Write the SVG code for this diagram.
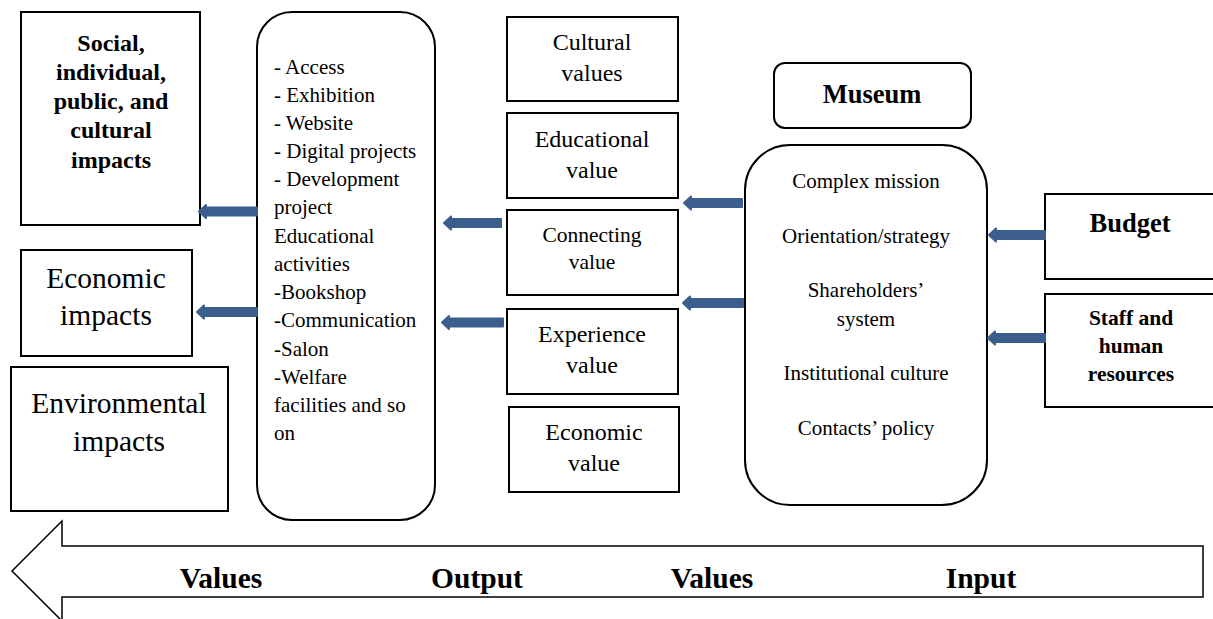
<svg xmlns="http://www.w3.org/2000/svg" width="1213" height="619" viewBox="0 0 1213 619">
<style>
.box{fill:#fff;stroke:#000;stroke-width:2}
.t{font-family:'Liberation Serif','Times New Roman',Times,serif;fill:#000}
.c{text-anchor:middle}
.b{font-weight:bold}
.arr{fill:#3B5E8D;stroke:#3B5E8D;stroke-width:2;stroke-linejoin:round}
</style>
<rect width="1213" height="619" fill="#fff"/>
<g id="social-impacts">
<rect class="box" x="21" y="12" width="179" height="213"/>
<text class="t c b" font-size="24"><tspan x="111" y="51">Social,</tspan><tspan x="111" y="80">individual,</tspan><tspan x="111" y="109">public, and</tspan><tspan x="111" y="138">cultural</tspan><tspan x="111" y="168">impacts</tspan></text>
</g>
<g id="economic-impacts">
<rect class="box" x="21" y="250" width="171" height="106"/>
<text class="t c" font-size="29.5"><tspan x="106" y="288">Economic</tspan><tspan x="106" y="325">impacts</tspan></text>
</g>
<g id="environmental-impacts">
<rect class="box" x="11" y="367" width="217" height="144"/>
<text class="t c" font-size="29.5"><tspan x="119" y="413">Environmental</tspan><tspan x="119" y="451">impacts</tspan></text>
</g>
<g id="output">
<rect class="box" x="257" y="12" width="178" height="508" rx="35" ry="35"/>
<text class="t" font-size="21"><tspan x="274" y="74">- Access</tspan><tspan x="274" y="102">- Exhibition</tspan><tspan x="274" y="130">- Website</tspan><tspan x="274" y="158">- Digital projects</tspan><tspan x="274" y="186">- Development</tspan><tspan x="274" y="214">project</tspan><tspan x="274" y="243">Educational</tspan><tspan x="274" y="271">activities</tspan><tspan x="274" y="299">-Bookshop</tspan><tspan x="274" y="327">-Communication</tspan><tspan x="274" y="356">-Salon</tspan><tspan x="274" y="384">-Welfare</tspan><tspan x="274" y="412">facilities and so</tspan><tspan x="274" y="440">on</tspan></text>
</g>
<g id="cultural-values">
<rect class="box" x="507" y="17" width="171" height="84"/>
<text class="t c" font-size="24"><tspan x="592" y="50">Cultural</tspan><tspan x="592" y="81">values</tspan></text>
</g>
<g id="educational-value">
<rect class="box" x="507" y="113" width="171" height="85"/>
<text class="t c" font-size="24"><tspan x="592" y="147">Educational</tspan><tspan x="592" y="178">value</tspan></text>
</g>
<g id="connecting-value">
<rect class="box" x="507" y="210" width="171" height="85"/>
<text class="t c" font-size="21.5"><tspan x="592" y="242">Connecting</tspan><tspan x="592" y="269">value</tspan></text>
</g>
<g id="experience-value">
<rect class="box" x="507" y="309" width="171" height="85"/>
<text class="t c" font-size="24"><tspan x="592" y="342">Experience</tspan><tspan x="592" y="373">value</tspan></text>
</g>
<g id="economic-value">
<rect class="box" x="509" y="407" width="170" height="85"/>
<text class="t c" font-size="24"><tspan x="594" y="440">Economic</tspan><tspan x="594" y="471">value</tspan></text>
</g>
<g id="museum-title">
<rect class="box" x="774" y="63" width="197" height="65" rx="11" ry="11"/>
<text class="t c b" font-size="26.5" x="872" y="103">Museum</text>
</g>
<g id="museum">
<rect class="box" x="745" y="145" width="242" height="360" rx="45" ry="45"/>
<text class="t c" font-size="21"><tspan x="866" y="188">Complex mission</tspan><tspan x="866" y="243">Orientation/strategy</tspan><tspan x="866" y="297">Shareholders’</tspan><tspan x="866" y="326">system</tspan><tspan x="866" y="380">Institutional culture</tspan><tspan x="866" y="435">Contacts’ policy</tspan></text>
</g>
<g id="budget">
<rect class="box" x="1045" y="194" width="172" height="85"/>
<text class="t c b" font-size="26.5" x="1130" y="232">Budget</text>
</g>
<g id="staff">
<rect class="box" x="1045" y="294" width="172" height="113"/>
<text class="t c b" font-size="21.5"><tspan x="1131" y="325">Staff and</tspan><tspan x="1131" y="353">human</tspan><tspan x="1131" y="381">resources</tspan></text>
</g>
<g id="connectors">
<path class="arr" d="M257 207.5 L206 207.5 L206 205 L199 211.5 L206 218 L206 215.5 L257 215.5 Z"/>
<path class="arr" d="M257 308 L204 308 L204 305.5 L197 312 L204 318.5 L204 316 L257 316 Z"/>
<path class="arr" d="M501 219 L451 219 L451 216.5 L444 223 L451 229.5 L451 227 L501 227 Z"/>
<path class="arr" d="M503 318.5 L449 318.5 L449 316 L442 322.5 L449 329 L449 326.5 L503 326.5 Z"/>
<path class="arr" d="M742 199 L691 199 L691 196.5 L684 203 L691 209.5 L691 207 L742 207 Z"/>
<path class="arr" d="M743 299 L690 299 L690 296.5 L683 303 L690 309.5 L690 307 L743 307 Z"/>
<path class="arr" d="M1045 231 L996 231 L996 228.5 L989 235 L996 241.5 L996 239 L1045 239 Z"/>
<path class="arr" d="M1045 334 L995 334 L995 331.5 L988 338 L995 344.5 L995 342 L1045 342 Z"/>
</g>
<g id="flow-arrow">
<path d="M1203 546 L62 546 L62 521 L12 571 L62 621 L62 597 L1203 597 Z" fill="#fff" stroke="#000" stroke-width="1.5"/>
<text class="t c b" font-size="29.5"><tspan x="221" y="588">Values</tspan><tspan x="477" y="588">Output</tspan><tspan x="712" y="588">Values</tspan><tspan x="981" y="588">Input</tspan></text>
</g>
</svg>
